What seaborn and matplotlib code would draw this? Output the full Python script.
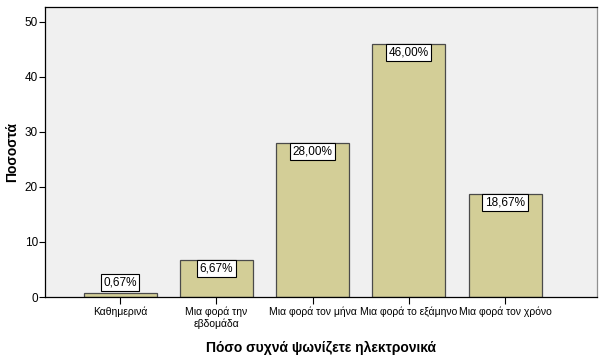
import matplotlib
matplotlib.use("Agg")
import matplotlib.pyplot as plt
import seaborn as sns
import pandas as pd

categories = ["Καθημερινά", "Μια φορά την\nεβδομάδα", "Μια φορά τον μήνα",
              "Μια φορά το εξάμηνο", "Μια φορά τον χρόνο"]
values = [0.67, 6.67, 28.00, 46.00, 18.67]
labels = ["0,67%", "6,67%", "28,00%", "46,00%", "18,67%"]
yticks = [0, 10, 20, 30, 40, 50]

df = pd.DataFrame({"cat": categories, "val": values})

sns.set_style("ticks")
plt.rcParams['font.family'] = ['Liberation Sans', 'DejaVu Sans']
plt.rcParams['text.color'] = 'black'
plt.rcParams['axes.labelcolor'] = 'black'
plt.rcParams['xtick.color'] = 'black'
plt.rcParams['ytick.color'] = 'black'

fig = plt.figure(figsize=(6.03, 3.6), dpi=100)
fig.patch.set_facecolor("white")
ax = fig.add_axes([45/603, 63/360, 552/603, 290/360])
ax.set_facecolor("#f0f0f0")

sns.barplot(data=df, x="cat", y="val", color="#d3ce97", width=0.76,
            edgecolor="#4a4a4a", linewidth=0.9, saturation=1, ax=ax)

ax.set_xlim(-0.78, 4.955)
ax.set_ylim(0, 52.7)
ax.set_yticks(yticks)
ax.set_yticklabels([str(t) for t in yticks], fontsize=8.5)
ax.tick_params(axis='x', labelsize=7.5, length=5, width=0.8, direction='out', pad=2)
ax.tick_params(axis='y', length=4, width=0.8, direction='out', pad=1)

for i, (v, lab) in enumerate(zip(values, labels)):
    box = dict(boxstyle="square,pad=0.22", facecolor="white", edgecolor="black", linewidth=0.8)
    if v > 5:
        ax.annotate(lab, (i, v), xytext=(0, -1.8), textcoords="offset points",
                    ha="center", va="top", fontsize=8.5, bbox=box)
    else:
        ax.annotate(lab, (i, v), xytext=(0, 3.5), textcoords="offset points",
                    ha="center", va="bottom", fontsize=8.5, bbox=box)

ax.set_xlabel("Πόσο συχνά ψωνίζετε ηλεκτρονικά", fontsize=10, fontweight="bold", labelpad=8)
ax.set_ylabel("Ποσοστά", fontsize=10, fontweight="bold", labelpad=4)

for s in ["left", "bottom", "top"]:
    ax.spines[s].set_color("black")
    ax.spines[s].set_linewidth(0.9)
ax.spines["right"].set_color("#909090")
ax.spines["right"].set_linewidth(0.9)

fig.savefig("out.png", dpi=100)
